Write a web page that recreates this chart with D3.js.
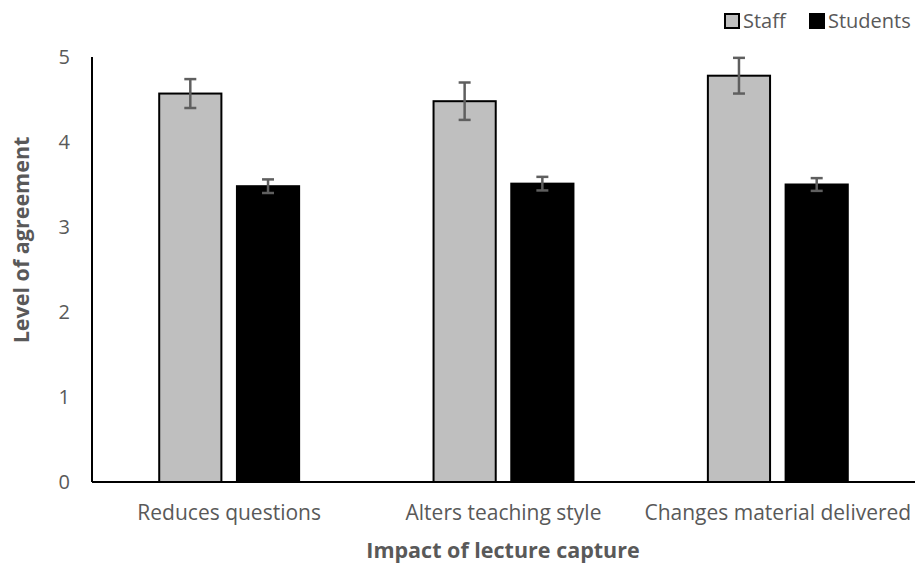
<!DOCTYPE html>
<html>
<head>
<meta charset="utf-8">
<script src="https://cdn.jsdelivr.net/npm/d3@7"></script>
<style>
  body { margin: 0; background: #fff; }
  text { font-family: "Open Sans", sans-serif; fill: #595959; }
</style>
</head>
<body>
<div id="chart"></div>
<script>
// data
let categories = ["Reduces questions", "Alters teaching style", "Changes material delivered"];
let seriesNames = ["Staff", "Students"];
let staffMeans = [4.57, 4.48, 4.78];
let staffErr = [0.17, 0.22, 0.21];
let studentMeans = [3.48, 3.51, 3.5];
let studentErr = [0.08, 0.08, 0.075];
let yTicks = [0, 1, 2, 3, 4, 5];
let colors = ["#bfbfbf", "#000000"];

let width = 915, height = 564;
let margin = { top: 57, right: 0, bottom: 82, left: 92 };

let svg = d3.select("#chart").append("svg")
  .attr("width", width)
  .attr("height", height);

let x0 = d3.scaleBand()
  .domain(categories)
  .range([margin.left, width - margin.right])
  .paddingInner(0.49)
  .paddingOuter(0.245);

let x1 = d3.scaleBand()
  .domain(seriesNames)
  .range([0, x0.bandwidth()])
  .paddingInner(0.2);

let y = d3.scaleLinear()
  .domain([0, 5])
  .range([height - margin.bottom, margin.top]);

let rows = categories.map((c, i) => [
  { cat: c, s: "Staff", v: staffMeans[i], e: staffErr[i] },
  { cat: c, s: "Students", v: studentMeans[i], e: studentErr[i] }
]);

// y tick labels
svg.append("g").selectAll("text").data(yTicks).enter().append("text")
  .attr("x", 70)
  .attr("y", d => y(d))
  .attr("dy", "0.35em")
  .attr("text-anchor", "end")
  .style("font-size", "20px")
  .text(d => d);

// bars
let groups = svg.append("g").selectAll("g").data(rows).enter().append("g")
  .attr("transform", d => `translate(${x0(d[0].cat)},0)`);

groups.selectAll("rect").data(d => d).enter().append("rect")
  .attr("x", d => x1(d.s))
  .attr("y", d => y(d.v))
  .attr("width", x1.bandwidth())
  .attr("height", d => y(0) - y(d.v))
  .attr("fill", d => d.s == "Staff" ? colors[0] : colors[1])
  .attr("stroke", "#000")
  .attr("stroke-width", 2);

// error bars
let eb = groups.selectAll("g.err").data(d => d).enter().append("g").attr("class", "err")
  .attr("stroke", "#5f5f5f")
  .attr("stroke-width", 2.5);
let cx = d => x1(d.s) + x1.bandwidth() / 2;
eb.append("line")
  .attr("x1", cx).attr("x2", cx)
  .attr("y1", d => y(d.v + d.e)).attr("y2", d => y(d.v - d.e));
eb.append("line")
  .attr("x1", d => cx(d) - 6).attr("x2", d => cx(d) + 6)
  .attr("y1", d => y(d.v + d.e)).attr("y2", d => y(d.v + d.e));
eb.append("line")
  .attr("x1", d => cx(d) - 6).attr("x2", d => cx(d) + 6)
  .attr("y1", d => y(d.v - d.e)).attr("y2", d => y(d.v - d.e));

// axes lines
svg.append("line")
  .attr("x1", margin.left).attr("x2", margin.left)
  .attr("y1", y(5)).attr("y2", y(0))
  .attr("stroke", "#000").attr("stroke-width", 2);
svg.append("line")
  .attr("x1", margin.left).attr("x2", width)
  .attr("y1", y(0)).attr("y2", y(0))
  .attr("stroke", "#000").attr("stroke-width", 2);

// category labels
svg.append("g").selectAll("text").data(categories).enter().append("text")
  .attr("x", d => x0(d) + x0.bandwidth() / 2)
  .attr("y", 520)
  .attr("text-anchor", "middle")
  .style("font-size", "21px")
  .text(d => d);

// axis titles
svg.append("text")
  .attr("x", 503).attr("y", 558)
  .attr("text-anchor", "middle")
  .style("font-size", "21.5px").style("font-weight", "bold")
  .text("Impact of lecture capture");

svg.append("text")
  .attr("transform", "translate(29,240) rotate(-90)")
  .attr("text-anchor", "middle")
  .style("font-size", "21.5px").style("font-weight", "bold")
  .text("Level of agreement");

// legend
let legX = [725, 810];
let leg = svg.append("g").selectAll("g").data(seriesNames).enter().append("g")
  .attr("transform", (d, i) => `translate(${legX[i]},14)`);
leg.append("rect")
  .attr("width", 14).attr("height", 14)
  .attr("fill", (d, i) => colors[i])
  .attr("stroke", "#000").attr("stroke-width", 2);
leg.append("text")
  .attr("x", 18).attr("y", 7).attr("dy", "0.35em")
  .style("font-size", "20px")
  .text(d => d);
</script>
</body>
</html>
